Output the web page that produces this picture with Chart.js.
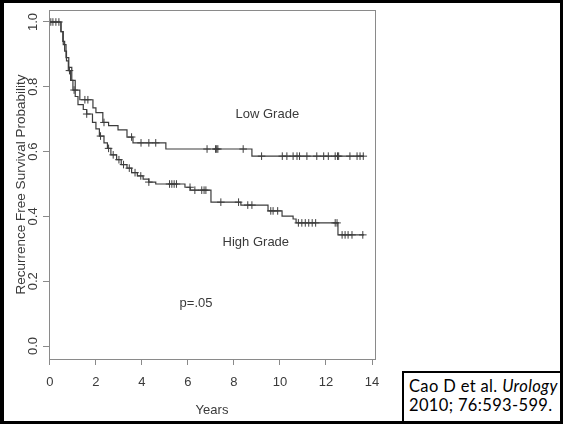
<!DOCTYPE html>
<html>
<head>
<meta charset="utf-8">
<script src="https://cdn.jsdelivr.net/npm/chart.js@4.4.0/dist/chart.umd.min.js"></script>
<style>
  html, body { margin: 0; padding: 0; background: #fff; }
  #page { position: relative; width: 563px; height: 424px; overflow: hidden; }
  #grafico { position: absolute; left: 0; top: 0; }
  #marco { position: absolute; left: 0; top: 0; width: 563px; height: 424px; box-sizing: border-box;
           border: 3px solid #000; border-left-width: 4px; pointer-events: none; }
  #cita { position: absolute; left: 402px; top: 371px; width: 170px; height: 60px; box-sizing: border-box;
          border: 2px solid #000; background: #fff; font-family: Lato, "Open Sans", sans-serif;
          font-size: 16.5px; letter-spacing: 0.35px; line-height: 19px; color: #000; padding: 4px 0 0 5px; }
</style>
</head>
<body>
<div id="page">
  <canvas id="grafico" width="563" height="424"></canvas>
  <div id="cita">Cao D et al. <i>Urology</i><br>2010; 76:593-599.</div>
  <div id="marco"></div>
</div>
<script>
// Datos (Kaplan-Meier, supervivencia libre de recurrencia)

// Low Grade: tiempos de evento (años) y supervivencia despues de cada caida
const lowTimes = [0, 0.48, 0.58, 0.7, 0.82, 0.95, 1.1, 1.3, 1.87, 2.0, 2.3, 2.55, 2.96, 3.35, 3.61, 5.04, 8.78];
const lowSurv  = [1.0, 0.97, 0.93, 0.89, 0.86, 0.82, 0.79, 0.76, 0.735, 0.72, 0.69, 0.68, 0.667, 0.645, 0.627, 0.608, 0.586];
const lowEnd = 13.65;
const lowCensor = [0.04, 0.26, 1.52, 1.65, 2.35, 3.55, 3.96, 4.3, 4.6, 6.83, 7.2, 7.25, 7.3, 8.4, 9.2, 10.1, 10.3,
                   10.57, 10.74, 10.85, 11.17, 11.6, 11.9, 12.1, 12.4, 12.5, 12.55, 13.04, 13.35, 13.48, 13.62];

// High Grade
const highTimes = [0, 0.48, 0.56, 0.64, 0.72, 0.8, 0.9, 1.0, 1.1, 1.22, 1.45, 1.6, 1.85, 2.0, 2.15, 2.35, 2.5, 2.65,
                   2.9, 3.1, 3.35, 3.55, 3.8, 4.05, 4.3, 4.6, 5.87, 6.1, 7.0, 8.3, 9.48, 10.09, 10.57, 10.7, 12.52];
const highSurv  = [1.0, 0.97, 0.94, 0.91, 0.88, 0.85, 0.82, 0.79, 0.77, 0.745, 0.73, 0.716, 0.69, 0.67, 0.648, 0.627,
                   0.61, 0.59, 0.575, 0.56, 0.549, 0.535, 0.525, 0.515, 0.506, 0.5, 0.49, 0.481, 0.444, 0.435, 0.417,
                   0.401, 0.392, 0.38, 0.343];
const highEnd = 13.65;
const highCensor = [0.13, 0.39, 0.85, 1.05, 1.6, 2.2, 2.55, 2.75, 3.0, 3.2, 3.45, 3.7, 3.95, 4.3, 5.2, 5.3, 5.4, 5.5,
                    6.09, 6.3, 6.6, 6.7, 6.78, 7.43, 8.2, 8.6, 8.78, 9.6, 9.7, 9.9, 10.8, 10.95, 11.1, 11.25, 11.4,
                    11.55, 12.4, 12.48, 12.7, 12.83, 12.96, 13.13, 13.6];

// Ejes
const xTicks = [0, 2, 4, 6, 8, 10, 12, 14];
const yTicks = [0, 0.2, 0.4, 0.6, 0.8, 1.0];
const yTickLabels = ['0.0', '0.2', '0.4', '0.6', '0.8', '1.0'];

// Textos dentro del grafico
const notas = [
    { texto: 'Low Grade', x: 9.45, y: 0.715 },
    { texto: 'High Grade', x: 8.95, y: 0.32 },
    { texto: 'p=.05', x: 6.35, y: 0.13 }
];

const LINEA = '#3c3c3c';
const CAJA = '#8a8a8a';
const TEXTO = '#3a3a3a';
const FUENTE = '"Liberation Sans", Arial, sans-serif';

function curva(tiempos, surv, fin) {
    const pts = tiempos.map((t, i) => ({ x: t, y: surv[i] }));
    pts.push({ x: fin, y: surv[surv.length - 1] });
    return pts;
}

function survEn(tiempos, surv, t) {
    let s = surv[0];
    for (let i = 0; i < tiempos.length; i++) {
        if (tiempos[i] <= t) s = surv[i];
    }
    return s;
}

function censuras(lista, tiempos, surv) {
    return lista.map(t => ({ x: t, y: survEn(tiempos, surv, t) }));
}

const cajaPlugin = {
    id: 'cajaR',
    afterDraw(chart) {
        const ctx = chart.ctx;
        const a = chart.chartArea;
        const ys = chart.scales.y;
        const xs = chart.scales.x;
        ctx.save();
        ctx.strokeStyle = CAJA;
        ctx.lineWidth = 1;
        ctx.strokeRect(Math.round(a.left) + 0.5, Math.round(a.top) + 0.5,
                       Math.round(a.right - a.left), Math.round(a.bottom - a.top));

        // etiquetas del eje y giradas (estilo R)
        ctx.fillStyle = TEXTO;
        ctx.font = '13px ' + FUENTE;
        ctx.textAlign = 'center';
        ctx.textBaseline = 'middle';
        yTicks.forEach((v, i) => {
            ctx.save();
            ctx.translate(33, ys.getPixelForValue(v));
            ctx.rotate(-Math.PI / 2);
            ctx.fillText(yTickLabels[i], 0, 0);
            ctx.restore();
        });

        // anotaciones
        notas.forEach(n => {
            ctx.fillText(n.texto, xs.getPixelForValue(n.x), ys.getPixelForValue(n.y));
        });
        ctx.restore();
    }
};

const ctx = document.getElementById('grafico').getContext('2d');

new Chart(ctx, {
    type: 'line',
    data: {
        datasets: [
            {
                label: 'Low Grade',
                data: curva(lowTimes, lowSurv, lowEnd),
                borderColor: LINEA,
                borderWidth: 1.2,
                stepped: 'before',
                pointRadius: 0,
                fill: false
            },
            {
                label: 'High Grade',
                data: curva(highTimes, highSurv, highEnd),
                borderColor: LINEA,
                borderWidth: 1.2,
                stepped: 'before',
                pointRadius: 0,
                fill: false
            },
            {
                label: 'Low censurados',
                data: censuras(lowCensor, lowTimes, lowSurv),
                showLine: false,
                pointStyle: 'cross',
                pointRadius: 3.8,
                pointBorderWidth: 1,
                pointBorderColor: LINEA
            },
            {
                label: 'High censurados',
                data: censuras(highCensor, highTimes, highSurv),
                showLine: false,
                pointStyle: 'cross',
                pointRadius: 3.8,
                pointBorderWidth: 1,
                pointBorderColor: LINEA
            }
        ]
    },
    options: {
        responsive: false,
        animation: false,
        layout: { padding: { left: 0, top: 10, right: 188, bottom: 0 } },
        plugins: {
            legend: { display: false },
            tooltip: { enabled: false }
        },
        scales: {
            x: {
                type: 'linear',
                min: -0.04,
                max: 14.13,
                afterBuildTicks: (s) => { s.ticks = xTicks.map(v => ({ value: v })); },
                afterFit: (s) => { s.height = 65; },
                border: { display: false },
                grid: { drawOnChartArea: false, drawTicks: true, tickLength: 6, color: CAJA },
                ticks: { color: TEXTO, font: { size: 13, family: FUENTE }, padding: 10, maxRotation: 0 },
                title: { display: true, text: 'Years', color: TEXTO, font: { size: 13, family: FUENTE },
                         padding: { top: 0, bottom: 6 } }
            },
            y: {
                type: 'linear',
                min: -0.04,
                max: 1.037,
                afterBuildTicks: (s) => { s.ticks = yTicks.map(v => ({ value: v })); },
                afterFit: (s) => { s.width = 49; },
                border: { display: false },
                grid: { drawOnChartArea: false, drawTicks: true, tickLength: 6, color: CAJA },
                ticks: { display: false },
                title: { display: true, text: 'Recurrence Free Survival Probability', color: TEXTO,
                         font: { size: 13.5, family: FUENTE }, padding: { top: 13, bottom: 0 } }
            }
        }
    },
    plugins: [cajaPlugin]
});
</script>
</body>
</html>
